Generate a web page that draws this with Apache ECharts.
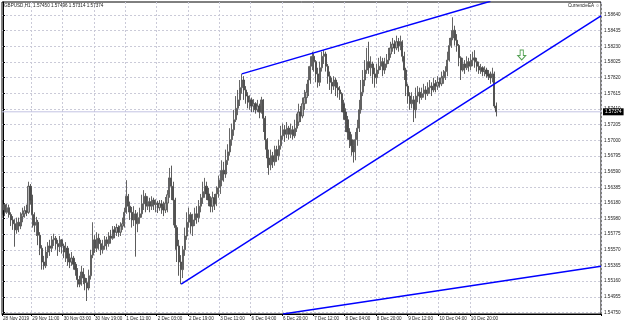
<!DOCTYPE html>
<html><head><meta charset="utf-8">
<script src="https://cdn.jsdelivr.net/npm/echarts@6/dist/echarts.min.js"></script>
<style>html,body{margin:0;padding:0;background:#fff}#c{width:625px;height:323px}</style>
</head><body><div id="c"></div>
<script>
const symbolName = 'GBPUSD,H1';
const lastQuote = [1.57450, 1.57496, 1.57314, 1.57374];
const eaName = 'CurrencieEA';
const bidPrice = 1.57374;
const totalSlots = 306;

const opens = [
1.5609,1.5616,1.5606,1.5612,1.5603,1.5596,1.5591,1.5583,1.5593,1.5588,
1.5600,1.5604,1.5608,1.5606,1.5640,1.5622,1.5603,1.5589,1.5593,1.5576,
1.5559,1.5541,1.5536,1.5554,1.5562,1.5559,1.5570,1.5572,1.5565,1.5561,
1.5570,1.5562,1.5554,1.5559,1.5546,1.5541,1.5546,1.5538,1.5531,1.5518,
1.5512,1.5528,1.5520,1.5514,1.5507,1.5523,1.5550,1.5570,1.5559,1.5572,
1.5565,1.5557,1.5562,1.5570,1.5565,1.5575,1.5572,1.5583,1.5580,1.5586,
1.5580,1.5588,1.5591,1.5606,1.5627,1.5614,1.5606,1.5596,1.5604,1.5591,
1.5599,1.5604,1.5617,1.5627,1.5614,1.5620,1.5614,1.5622,1.5616,1.5618,
1.5612,1.5617,1.5614,1.5609,1.5618,1.5629,1.5651,1.5640,1.5622,1.5586,
1.5562,1.5541,1.5531,1.5557,1.5575,1.5593,1.5603,1.5588,1.5596,1.5604,
1.5599,1.5614,1.5625,1.5633,1.5640,1.5630,1.5622,1.5614,1.5625,1.5617,
1.5630,1.5638,1.5648,1.5661,1.5656,1.5674,1.5685,1.5701,1.5714,1.5727,
1.5742,1.5753,1.5769,1.5779,1.5766,1.5758,1.5750,1.5753,1.5745,1.5748,
1.5740,1.5745,1.5737,1.5753,1.5729,1.5701,1.5677,1.5668,1.5680,1.5672,
1.5688,1.5680,1.5693,1.5706,1.5714,1.5708,1.5716,1.5708,1.5714,1.5706,
1.5716,1.5724,1.5737,1.5732,1.5748,1.5756,1.5763,1.5779,1.5797,1.5810,
1.5803,1.5787,1.5776,1.5795,1.5810,1.5813,1.5797,1.5784,1.5776,1.5771,
1.5779,1.5769,1.5766,1.5761,1.5748,1.5737,1.5727,1.5711,1.5701,1.5693,
1.5685,1.5701,1.5716,1.5740,1.5763,1.5779,1.5792,1.5803,1.5795,1.5800,
1.5787,1.5782,1.5792,1.5797,1.5803,1.5792,1.5800,1.5805,1.5813,1.5821,
1.5826,1.5821,1.5829,1.5824,1.5829,1.5810,1.5792,1.5771,1.5758,1.5748,
1.5753,1.5740,1.5758,1.5763,1.5756,1.5761,1.5766,1.5761,1.5769,1.5771,
1.5766,1.5774,1.5771,1.5776,1.5774,1.5782,1.5784,1.5790,1.5805,1.5824,
1.5834,1.5844,1.5831,1.5824,1.5808,1.5792,1.5800,1.5795,1.5803,1.5797,
1.5805,1.5808,1.5803,1.5797,1.5792,1.5795,1.5790,1.5792,1.5787,1.5784,
1.5782,1.5787,1.57450];

const closes = [
1.5616,1.5606,1.5612,1.5603,1.5596,1.5591,1.5583,1.5593,1.5588,1.5600,
1.5604,1.5608,1.5606,1.5640,1.5622,1.5603,1.5589,1.5593,1.5576,1.5559,
1.5541,1.5536,1.5554,1.5562,1.5559,1.5570,1.5572,1.5565,1.5561,1.5570,
1.5562,1.5554,1.5559,1.5546,1.5541,1.5546,1.5538,1.5531,1.5518,1.5512,
1.5528,1.5520,1.5514,1.5507,1.5523,1.5550,1.5570,1.5559,1.5572,1.5565,
1.5557,1.5562,1.5570,1.5565,1.5575,1.5572,1.5583,1.5580,1.5586,1.5580,
1.5588,1.5591,1.5606,1.5627,1.5614,1.5606,1.5596,1.5604,1.5591,1.5599,
1.5604,1.5617,1.5627,1.5614,1.5620,1.5614,1.5622,1.5616,1.5618,1.5612,
1.5617,1.5614,1.5609,1.5618,1.5629,1.5651,1.5640,1.5622,1.5586,1.5562,
1.5541,1.5531,1.5557,1.5575,1.5593,1.5603,1.5588,1.5596,1.5604,1.5599,
1.5614,1.5625,1.5633,1.5640,1.5630,1.5622,1.5614,1.5625,1.5617,1.5630,
1.5638,1.5648,1.5661,1.5656,1.5674,1.5685,1.5701,1.5714,1.5727,1.5742,
1.5753,1.5769,1.5779,1.5766,1.5758,1.5750,1.5753,1.5745,1.5748,1.5740,
1.5745,1.5737,1.5753,1.5729,1.5701,1.5677,1.5668,1.5680,1.5672,1.5688,
1.5680,1.5693,1.5706,1.5714,1.5708,1.5716,1.5708,1.5714,1.5706,1.5716,
1.5724,1.5737,1.5732,1.5748,1.5756,1.5763,1.5779,1.5797,1.5810,1.5803,
1.5787,1.5776,1.5795,1.5810,1.5813,1.5797,1.5784,1.5776,1.5771,1.5779,
1.5769,1.5766,1.5761,1.5748,1.5737,1.5727,1.5711,1.5701,1.5693,1.5685,
1.5701,1.5716,1.5740,1.5763,1.5779,1.5792,1.5803,1.5795,1.5800,1.5787,
1.5782,1.5792,1.5797,1.5803,1.5792,1.5800,1.5805,1.5813,1.5821,1.5826,
1.5821,1.5829,1.5824,1.5829,1.5810,1.5792,1.5771,1.5758,1.5748,1.5753,
1.5740,1.5758,1.5763,1.5756,1.5761,1.5766,1.5761,1.5769,1.5771,1.5766,
1.5774,1.5771,1.5776,1.5774,1.5782,1.5784,1.5790,1.5805,1.5824,1.5834,
1.5844,1.5831,1.5824,1.5808,1.5792,1.5800,1.5795,1.5803,1.5797,1.5805,
1.5808,1.5803,1.5797,1.5792,1.5795,1.5790,1.5792,1.5787,1.5784,1.5782,
1.5787,1.57450,1.57374];

const highs = [
1.5622,1.5618,1.5617,1.5616,1.5606,1.5601,1.5597,1.5599,1.5599,1.5606,
1.5612,1.5614,1.5616,1.5646,1.5643,1.5629,1.5606,1.5600,1.5596,1.5580,
1.5563,1.5549,1.5561,1.5567,1.5570,1.5575,1.5578,1.5575,1.5570,1.5575,
1.5571,1.5565,1.5567,1.5562,1.5552,1.5554,1.5549,1.5541,1.5533,1.5523,
1.5536,1.5533,1.5525,1.5520,1.5531,1.5557,1.5593,1.5576,1.5580,1.5578,
1.5570,1.5570,1.5575,1.5574,1.5580,1.5583,1.5588,1.5588,1.5591,1.5589,
1.5593,1.5599,1.5612,1.5648,1.5630,1.5620,1.5613,1.5614,1.5609,1.5606,
1.5612,1.5629,1.5635,1.5631,1.5627,1.5625,1.5627,1.5625,1.5623,1.5621,
1.5622,1.5622,1.5620,1.5626,1.5635,1.5664,1.5667,1.5646,1.5625,1.5589,
1.5570,1.5550,1.5562,1.5586,1.5606,1.5612,1.5606,1.5604,1.5612,1.5614,
1.5622,1.5630,1.5646,1.5651,1.5646,1.5638,1.5627,1.5633,1.5630,1.5640,
1.5654,1.5661,1.5674,1.5672,1.5688,1.5695,1.5716,1.5722,1.5740,1.5758,
1.5766,1.5779,1.5787,1.5784,1.5771,1.5763,1.5759,1.5756,1.5754,1.5750,
1.5753,1.5748,1.5757,1.5754,1.5732,1.5703,1.5688,1.5688,1.5685,1.5693,
1.5693,1.5701,1.5719,1.5722,1.5720,1.5724,1.5719,1.5722,1.5719,1.5727,
1.5735,1.5748,1.5745,1.5756,1.5766,1.5774,1.5797,1.5810,1.5816,1.5814,
1.5805,1.5795,1.5803,1.5816,1.5818,1.5816,1.5800,1.5790,1.5782,1.5784,
1.5782,1.5776,1.5771,1.5763,1.5753,1.5742,1.5732,1.5716,1.5708,1.5701,
1.5711,1.5727,1.5753,1.5779,1.5792,1.5805,1.5821,1.5829,1.5810,1.5803,
1.5795,1.5800,1.5808,1.5810,1.5808,1.5808,1.5813,1.5821,1.5829,1.5834,
1.5831,1.5837,1.5834,1.5837,1.5831,1.5816,1.5795,1.5774,1.5763,1.5763,
1.5758,1.5769,1.5771,1.5769,1.5769,1.5774,1.5771,1.5776,1.5779,1.5776,
1.5782,1.5779,1.5784,1.5782,1.5790,1.5792,1.5797,1.5816,1.5834,1.5844,
1.5861,1.5850,1.5839,1.5826,1.5810,1.5808,1.5805,1.5810,1.5808,1.5813,
1.5816,1.5818,1.5808,1.5803,1.5800,1.5797,1.5797,1.5795,1.5792,1.5790,
1.5795,1.5790,1.57496];

const lows = [
1.5603,1.5601,1.5604,1.5599,1.5588,1.5583,1.5561,1.5578,1.5580,1.5584,
1.5593,1.5599,1.5601,1.5604,1.5616,1.5586,1.5580,1.5575,1.5563,1.5550,
1.5531,1.5531,1.5533,1.5546,1.5549,1.5554,1.5562,1.5557,1.5549,1.5554,
1.5552,1.5546,1.5541,1.5536,1.5533,1.5536,1.5531,1.5523,1.5508,1.5508,
1.5510,1.5512,1.5504,1.5490,1.5504,1.5518,1.5546,1.5553,1.5554,1.5557,
1.5550,1.5552,1.5557,1.5557,1.5561,1.5565,1.5570,1.5572,1.5575,1.5574,
1.5575,1.5583,1.5586,1.5604,1.5606,1.5596,1.5586,1.5588,1.5548,1.5580,
1.5591,1.5599,1.5609,1.5606,1.5609,1.5606,1.5609,1.5609,1.5606,1.5605,
1.5608,1.5604,1.5601,1.5605,1.5606,1.5625,1.5622,1.5589,1.5557,1.5541,
1.5523,1.5512,1.5520,1.5549,1.5570,1.5586,1.5578,1.5575,1.5588,1.5591,
1.5593,1.5606,1.5617,1.5625,1.5622,1.5614,1.5606,1.5606,1.5609,1.5614,
1.5625,1.5630,1.5640,1.5646,1.5651,1.5668,1.5680,1.5693,1.5706,1.5724,
1.5733,1.5745,1.5761,1.5753,1.5748,1.5742,1.5740,1.5737,1.5737,1.5735,
1.5737,1.5729,1.5735,1.5711,1.5688,1.5664,1.5655,1.5661,1.5664,1.5667,
1.5672,1.5674,1.5688,1.5701,1.5698,1.5703,1.5701,1.5703,1.5701,1.5703,
1.5711,1.5719,1.5724,1.5729,1.5740,1.5748,1.5758,1.5774,1.5792,1.5790,
1.5776,1.5769,1.5771,1.5790,1.5800,1.5790,1.5774,1.5766,1.5761,1.5766,
1.5758,1.5756,1.5753,1.5737,1.5727,1.5711,1.5701,1.5690,1.5680,1.5671,
1.5674,1.5693,1.5711,1.5735,1.5758,1.5771,1.5787,1.5787,1.5784,1.5774,
1.5769,1.5774,1.5787,1.5792,1.5784,1.5787,1.5795,1.5800,1.5808,1.5816,
1.5813,1.5818,1.5816,1.5818,1.5803,1.5779,1.5758,1.5748,1.5740,1.5742,
1.5724,1.5729,1.5750,1.5748,1.5753,1.5756,1.5753,1.5758,1.5761,1.5758,
1.5763,1.5763,1.5766,1.5769,1.5771,1.5774,1.5779,1.5784,1.5803,1.5821,
1.5831,1.5824,1.5816,1.5797,1.5779,1.5790,1.5787,1.5792,1.5790,1.5792,
1.5797,1.5795,1.5790,1.5787,1.5787,1.5784,1.5784,1.5782,1.5779,1.5774,
1.5776,1.5742,1.57314];

const yTickValues = [1.54750,1.54955,1.55160,1.55365,1.55570,1.55775,1.55980,1.56180,1.56385,1.56590,
  1.56795,1.57000,1.57205,1.57410,1.57615,1.57820,1.58025,1.58230,1.58435,1.58640];
const xTickLabels = ['28 Nov 2019','29 Nov 11:00','30 Nov 03:00','30 Nov 19:00','1 Dec 11:00','2 Dec 03:00',
  '2 Dec 19:00','3 Dec 11:00','6 Dec 04:00','6 Dec 20:00','7 Dec 12:00','8 Dec 04:00','8 Dec 20:00',
  '9 Dec 12:00','10 Dec 04:00','10 Dec 20:00'];
const xTickIndex = [0,15,31,47,63,79,95,111,127,143,159,175,191,207,223,239];

// trend lines: [bar index, price]
const upperLine = [[122, 1.5787], [249, 1.5882]];
const supportLine = [[91, 1.5512], [305.5, 1.5863]];
const lowerLine = [[143, 1.5473], [305.5, 1.55354]];
const sellArrow = [[265, 1.58117]];
const bidLine = [[-0.5, bidPrice], [totalSlots - 0.5, bidPrice]];

const FONT = 'Liberation Sans';
const cats = [];
for (let i = 0; i < totalSlots; i++) cats.push(String(i));
const kData = opens.map((o, i) => [o, closes[i], lows[i], highs[i]]);
const showTick = (idx) => xTickIndex.indexOf(idx) >= 0;
const gridLine = {color: '#cacad8', type: [2, 2], width: 1};

const chart = echarts.init(document.getElementById('c'), null, {renderer: 'canvas'});
chart.setOption({
  animation: false,
  backgroundColor: '#ffffff',
  title: [
    {text: symbolName + '  ' + lastQuote.map(v => v.toFixed(5)).join(' '), left: 4, top: 3, padding: 0,
     textStyle: {fontSize: 4.6, fontWeight: 'normal', color: '#222', fontFamily: FONT}},
    {text: eaName + ' \u263A', right: 25, top: 3, padding: 0,
     textStyle: {fontSize: 4.6, fontWeight: 'normal', color: '#222', fontFamily: FONT}}
  ],
  grid: {left: 2, right: 24, top: 2, bottom: 9, show: true, borderColor: '#000', borderWidth: 1, backgroundColor: '#fff'},
  xAxis: [
    {type: 'category', data: cats, boundaryGap: true,
     axisLine: {show: true, lineStyle: {color: '#000', width: 1}},
     axisTick: {show: true, interval: (i) => showTick(i), length: 2, lineStyle: {color: '#000'}},
     axisLabel: {interval: (i) => showTick(i), align: 'left', margin: 2, fontSize: 4.6, color: '#222', fontFamily: FONT,
       formatter: (v, idx) => { const p = xTickIndex.indexOf(Number(v)); return p >= 0 ? xTickLabels[p] : ''; }},
     splitLine: {show: true, interval: (i) => showTick(i) && i > 0, lineStyle: gridLine}},
    {type: 'value', min: -0.5, max: totalSlots - 0.5, show: false}
  ],
  yAxis: {type: 'value', position: 'right', min: 1.5473, max: 1.5881,
    axisLine: {show: true, lineStyle: {color: '#000', width: 1}},
    axisTick: {show: true, customValues: yTickValues, length: 2, lineStyle: {color: '#000'}},
    axisLabel: {customValues: yTickValues, formatter: v => v.toFixed(5), fontSize: 4.6, color: '#222', margin: 3, fontFamily: FONT},
    splitLine: {show: true, lineStyle: gridLine}},
  series: [
    {type: 'line', xAxisIndex: 1, data: bidLine, symbol: 'none', clip: false, silent: true, z: 1,
     lineStyle: {color: '#c4c4e4', width: 1},
     endLabel: {show: true, distance: 2, formatter: () => bidPrice.toFixed(5), color: '#fff', backgroundColor: '#000',
       fontSize: 4.6, fontFamily: FONT, padding: [1, 2, 1, 2]}},
    {type: 'candlestick', data: kData, barWidth: 1.7, z: 2,
     itemStyle: {color: '#b4b4b4', color0: '#4a4a4a', borderColor: '#555555', borderColor0: '#4a4a4a', borderWidth: 0.9}},
    {type: 'line', xAxisIndex: 1, data: upperLine, symbol: 'none', clip: true, z: 3, lineStyle: {color: '#0000ff', width: 1.5}},
    {type: 'line', xAxisIndex: 1, data: supportLine, symbol: 'none', clip: true, z: 3, lineStyle: {color: '#0000ff', width: 1.5}},
    {type: 'line', xAxisIndex: 1, data: lowerLine, symbol: 'none', clip: true, z: 3, lineStyle: {color: '#0000ff', width: 1.5}},
    {type: 'scatter', xAxisIndex: 1, data: sellArrow, symbol: 'path://M3,0L7,0L7,6L10,6L5,11L0,6L3,6Z', symbolSize: [8, 10], z: 4,
     itemStyle: {color: '#ffffff', borderColor: '#2a8a2a', borderWidth: 1}}
  ]
});
</script></body></html>
